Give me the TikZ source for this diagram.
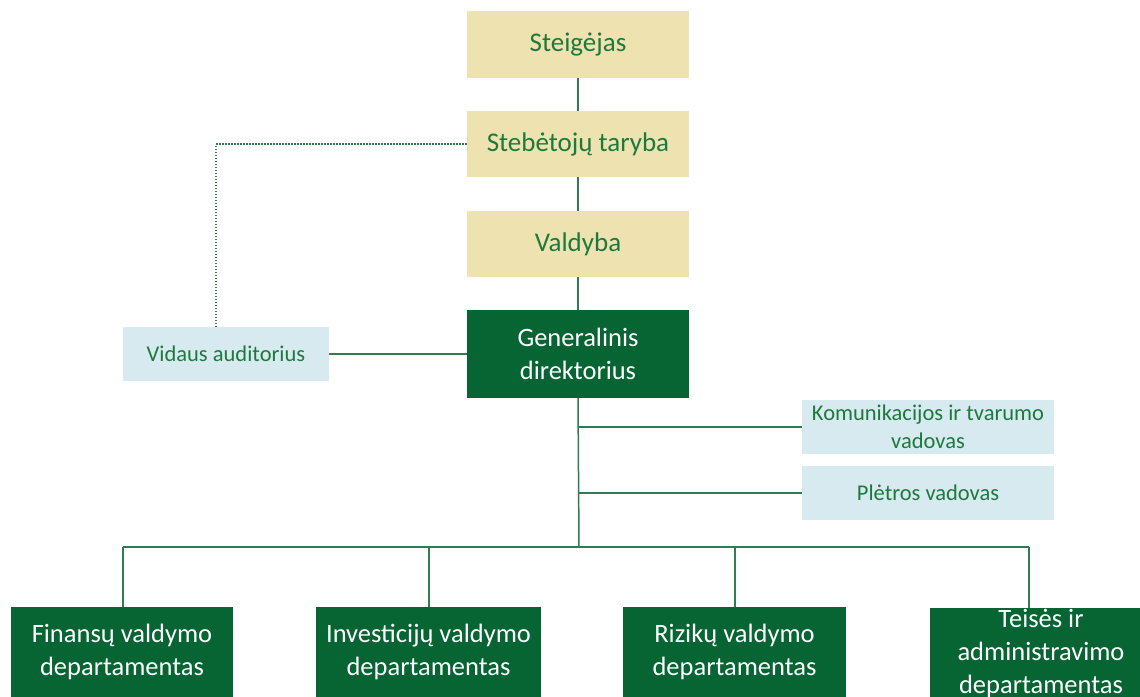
\documentclass[tikz,border=0pt]{standalone}
\usepackage{fontspec}
\setmainfont{Carlito}
\definecolor{beige}{HTML}{EDE2B0}
\definecolor{dkgreen}{HTML}{066532}
\definecolor{ltblue}{HTML}{D6EAEF}
\definecolor{txtgreen}{HTML}{1D7A3C}
\definecolor{lngreen}{HTML}{2F7D50}
\begin{document}
\begin{tikzpicture}[x=1pt,y=-1pt,
  topbox/.style={fill=beige,text=txtgreen,minimum width=222pt,minimum height=66pt,inner sep=0pt,align=center,font=\fontsize{27}{33}\selectfont},
  mainbox/.style={fill=dkgreen,text=white,minimum width=222pt,inner sep=0pt,align=center,font=\fontsize{26.5}{33}\selectfont},
  sidebox/.style={fill=ltblue,text=txtgreen,minimum height=54pt,inner sep=0pt,align=center,font=\fontsize{22.5}{28}\selectfont},
  conn/.style={draw=lngreen,line width=1.5pt},
  dotconn/.style={draw=lngreen,line width=1.3pt,dash pattern=on 1.5pt off 1.5pt}]
\useasboundingbox (0,0) rectangle (1140,696);
\clip (0,0) rectangle (1140,696);
\fill[white] (0,0) rectangle (1140,696);
% top column
\node[topbox,minimum height=67pt] (st) at (578,44.5) {Steigėjas};
\node[topbox] (sb) at (578,144) {Stebėtojų taryba};
\node[topbox] (vd) at (578,244) {Valdyba};
\node[mainbox,minimum height=88pt] (gd) at (578,354) {Generalinis\\direktorius};
% side boxes
\node[sidebox,minimum width=206pt] (va) at (226,354) {Vidaus auditorius};
\node[sidebox,minimum width=252pt] (ko) at (928,427) {Komunikacijos ir tvarumo\\vadovas};
\node[sidebox,minimum width=252pt] (pl) at (928,493) {Plėtros vadovas};
% departments
\node[mainbox,minimum width=222pt,minimum height=90pt] (fin) at (122,652) {Finansų valdymo\\departamentas};
\node[mainbox,minimum width=225pt,minimum height=90pt] (inv) at (428.5,652) {Investicijų valdymo\\departamentas};
\node[mainbox,minimum width=223pt,minimum height=90pt] (riz) at (734.5,652) {Rizikų valdymo\\departamentas};
\node[mainbox,minimum width=222pt,minimum height=90pt] (tei) at (1041,653) {Teisės ir\\administravimo\\departamentas};
% helper coordinates
\coordinate (dx) at (216,327);
\coordinate (sp) at (579,547);
\coordinate (bl) at (123,547);
\coordinate (bi) at (429,547);
\coordinate (br) at (735,547);
\coordinate (bt) at (1029,547);
% connectors
\draw[conn] (st.south) -- (sb.north);
\draw[conn] (sb.south) -- (vd.north);
\draw[conn] (vd.south) -- (gd.north);
\draw[conn] (va.east) -- (gd.west);
\draw[dotconn] (dx) |- (sb.west);
\draw[conn] (gd.south) -- (sp);
\draw[conn] (gd.south |- ko.west) -- (ko.west);
\draw[conn] (gd.south |- pl.west) -- (pl.west);
\draw[conn] (bl) -- (bt);
\draw[conn] (bl) -- (bl |- fin.north);
\draw[conn] (bi) -- (bi |- inv.north);
\draw[conn] (br) -- (br |- riz.north);
\draw[conn] (bt) -- (bt |- tei.north);
\end{tikzpicture}
\end{document}
